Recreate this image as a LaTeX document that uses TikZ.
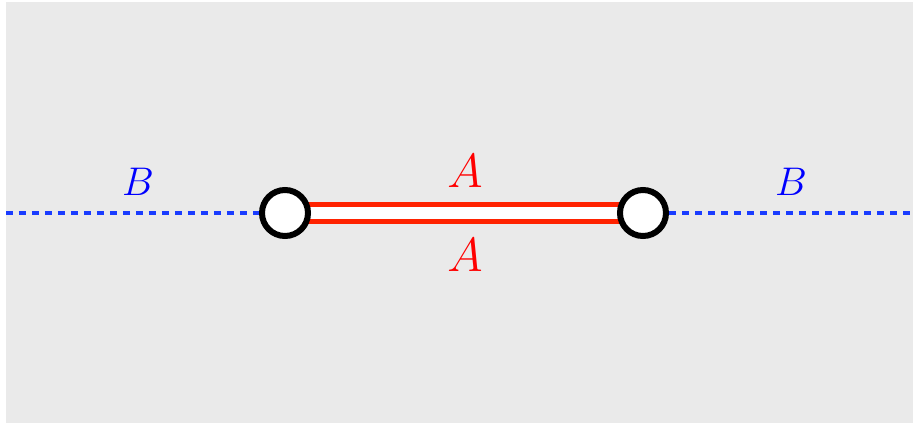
\documentclass[tikz,border=0pt]{standalone}
\usepackage{tikz}
\usepackage{xcolor}
\usetikzlibrary{positioning,calc,backgrounds}
\definecolor{panelgray}{HTML}{EAEAEA}
\definecolor{chainred}{HTML}{FF2200}
\definecolor{labelred}{HTML}{FF0000}
\definecolor{cutblue}{HTML}{1A3CFF}
\definecolor{labelblue}{HTML}{0000FF}
\tikzset{
  endpoint/.style={
    circle,
    draw=black,
    fill=white,
    line width=1.8pt,
    minimum size=13.8pt,
    inner sep=0pt
  },
  cutline/.style={draw=cutblue, line width=1.1pt, dash pattern=on 2.2pt off 1.7pt},
  branchline/.style={draw=chainred, line width=1.7pt, double=white, double distance=3.4pt},
  alabel/.style={text=labelred, font=\Large},
  blabel/.style={text=labelblue, font=\large}
}
\begin{document}
\begin{tikzpicture}[x=0.3pt,y=0.3pt]
\useasboundingbox (0,0) rectangle (913,423);

\coordinate (west) at (6,210);
\coordinate (east) at (913,210);
\node[endpoint] (pleft) at (285,210) {};
\node[endpoint] (pright) at (643,210) {};

\begin{scope}[on background layer]
\fill[panelgray] (6,0) rectangle (913,421);
\draw[branchline] (pleft.center) -- (pright.center);
\draw[cutline] (west) -- (pleft);
\draw[cutline] (pright) -- (east);
\end{scope}

\node[alabel] (atop) at (465,252) {$A$};
\node[alabel] (abot) at (465,168) {$A$};
\node[blabel] (bleft) at (138,241) {$B$};
\node[blabel] (bright) at (791,241) {$B$};
\end{tikzpicture}
\end{document}
